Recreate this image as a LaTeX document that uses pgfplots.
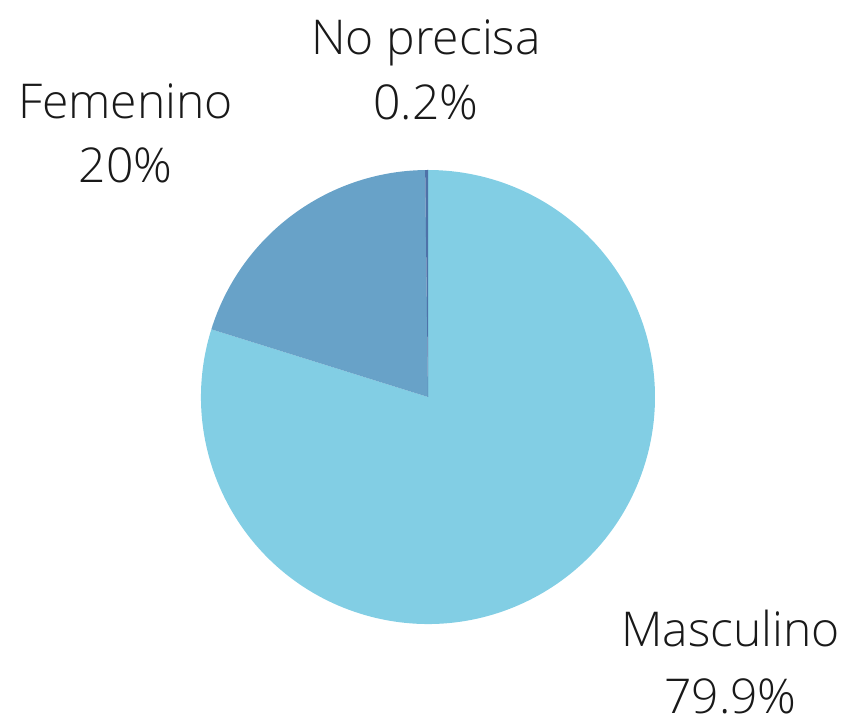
\documentclass[border=0pt]{standalone}
\usepackage{pgfplots}
\usepackage{pgfplotstable}
\pgfplotsset{compat=1.18}
\usepackage{fontspec}
\setmainfont{Open Sans Light}
\definecolor{cMasc}{HTML}{82CEE4}
\definecolor{cFem}{HTML}{68A2C8}
\definecolor{cNo}{HTML}{4E72A8}
\pgfplotstableread{
label value
NoPrecisa 0.2
Femenino 20
Masculino 79.9
}\piedata
\begin{document}
\begin{tikzpicture}
\pgfplotstablegetelem{0}{value}\of\piedata \let\vNo\pgfplotsretval
\pgfplotstablegetelem{1}{value}\of\piedata \let\vFem\pgfplotsretval
\pgfplotstablegetelem{2}{value}\of\piedata \let\vMas\pgfplotsretval
\pgfmathsetmacro{\tot}{\vNo+\vFem+\vMas}
\pgfmathsetmacro{\aA}{90}
\pgfmathsetmacro{\aB}{\aA+\vNo/\tot*360}
\pgfmathsetmacro{\aC}{\aB+\vFem/\tot*360}
\pgfmathsetmacro{\aD}{\aC+\vMas/\tot*360}
\begin{axis}[
  scale only axis, width=846bp, height=728bp,
  xmin=0, xmax=846, ymin=0, ymax=728,
  hide axis, clip=false,
]
\path (axis cs:0,0) rectangle (axis cs:846,728);
\fill[cMasc] (axis cs:428,331) -- ++(\aC:227bp) arc[start angle=\aC, end angle=\aD, radius=227bp] -- cycle;
\fill[cFem] (axis cs:428,331) -- ++(\aB:227bp) arc[start angle=\aB, end angle=\aC, radius=227bp] -- cycle;
\fill[cNo] (axis cs:428,331) -- ++(\aA:227bp) arc[start angle=\aA, end angle=\aB, radius=227bp] -- cycle;
\begin{scope}[every node/.style={inner sep=0pt, anchor=base, font=\fontsize{48bp}{65bp}\selectfont, text=black!90}]
\node at (axis cs:426,673) {No precisa};
\node at (axis cs:426,608) {0.2\%};
\node at (axis cs:125.5,609) {Femenino};
\node at (axis cs:125.5,545) {20\%};
\node at (axis cs:730.5,81) {Masculino};
\node at (axis cs:730.5,15) {79.9\%};
\end{scope}
\end{axis}
\end{tikzpicture}
\end{document}
